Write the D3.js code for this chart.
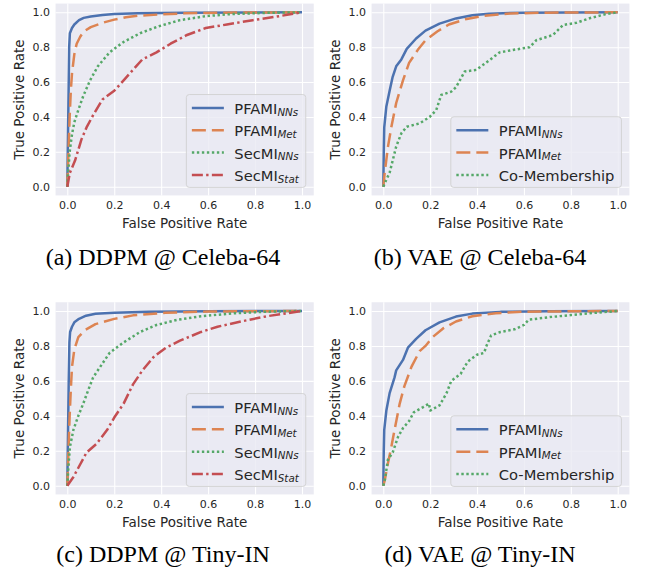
<!DOCTYPE html>
<html>
<head>
<meta charset="utf-8">
<script src="https://cdn.jsdelivr.net/npm/d3@7"></script>
<style>
body { margin: 0; background: #fff; }
</style>
</head>
<body>
<div id="fig"></div>
<script>
"use strict"

// ROC points, [fpr, tpr]

var ddpmCelebaPfamiNNs = [[0,0],[0.003,0.3],[0.006,0.6],[0.008,0.8],[0.011,0.88],[0.02,0.91],[0.03,0.93],[0.05,0.955],[0.07,0.968],[0.1,0.976],[0.15,0.985],[0.2,0.99],[0.3,0.995],[0.5,0.998],[1,1]];
var ddpmCelebaPfamiMet = [[0,0],[0.005,0.2],[0.01,0.4],[0.015,0.55],[0.02,0.65],[0.03,0.76],[0.04,0.82],[0.055,0.86],[0.07,0.89],[0.1,0.915],[0.15,0.94],[0.2,0.958],[0.25,0.972],[0.3,0.98],[0.4,0.988],[0.5,0.994],[0.65,0.998],[1,1]];
var ddpmCelebaSecmiNNs = [[0,0],[0.004,0.08],[0.01,0.2],[0.02,0.3],[0.03,0.37],[0.047,0.44],[0.068,0.52],[0.097,0.61],[0.13,0.69],[0.18,0.77],[0.24,0.83],[0.31,0.88],[0.39,0.92],[0.48,0.955],[0.59,0.978],[0.7,0.99],[0.85,0.997],[1,1]];
var ddpmCelebaSecmiStat = [[0,0],[0.011,0.08],[0.033,0.15],[0.06,0.27],[0.082,0.34],[0.11,0.41],[0.15,0.5],[0.2,0.55],[0.24,0.61],[0.28,0.67],[0.32,0.73],[0.38,0.77],[0.44,0.82],[0.51,0.87],[0.59,0.91],[0.68,0.93],[0.79,0.955],[0.89,0.975],[1,1]];

var vaeCelebaPfamiNNs = [[0,0],[0.002,0.2],[0.004,0.34],[0.013,0.46],[0.027,0.55],[0.04,0.63],[0.055,0.69],[0.077,0.73],[0.1,0.79],[0.14,0.85],[0.18,0.895],[0.24,0.935],[0.31,0.965],[0.38,0.983],[0.45,0.992],[0.6,0.998],[1,1]];
var vaeCelebaPfamiMet = [[0,0],[0.006,0.08],[0.02,0.23],[0.034,0.34],[0.055,0.48],[0.084,0.61],[0.11,0.71],[0.15,0.79],[0.18,0.84],[0.23,0.89],[0.28,0.93],[0.35,0.96],[0.43,0.98],[0.54,0.993],[0.7,0.998],[1,1]];
var vaeCelebaCoMember = [[0,0],[0.013,0.04],[0.027,0.08],[0.04,0.15],[0.055,0.23],[0.077,0.306],[0.1,0.344],[0.155,0.363],[0.198,0.4],[0.226,0.44],[0.247,0.526],[0.29,0.545],[0.31,0.57],[0.347,0.66],[0.397,0.67],[0.454,0.727],[0.496,0.77],[0.553,0.784],[0.624,0.8],[0.653,0.84],[0.724,0.87],[0.767,0.927],[0.824,0.94],[0.88,0.966],[0.95,0.99],[1,1]];

var ddpmTinyPfamiNNs = [[0,0],[0.003,0.3],[0.006,0.6],[0.009,0.82],[0.012,0.88],[0.02,0.91],[0.03,0.935],[0.05,0.955],[0.08,0.973],[0.12,0.984],[0.2,0.99],[0.35,0.996],[0.6,0.999],[1,1]];
var ddpmTinyPfamiMet = [[0,0],[0.005,0.2],[0.01,0.4],[0.015,0.55],[0.02,0.68],[0.03,0.78],[0.047,0.85],[0.075,0.89],[0.12,0.925],[0.2,0.955],[0.28,0.975],[0.42,0.99],[0.6,0.997],[1,1]];
var ddpmTinySecmiNNs = [[0,0],[0.004,0.09],[0.011,0.22],[0.026,0.32],[0.047,0.4],[0.068,0.47],[0.09,0.55],[0.11,0.62],[0.14,0.68],[0.18,0.76],[0.24,0.82],[0.31,0.88],[0.38,0.92],[0.47,0.95],[0.57,0.97],[0.71,0.987],[0.85,0.996],[1,1]];
var ddpmTinySecmiStat = [[0,0],[0.026,0.05],[0.054,0.12],[0.082,0.19],[0.125,0.24],[0.17,0.32],[0.2,0.39],[0.24,0.47],[0.28,0.58],[0.32,0.66],[0.37,0.74],[0.42,0.79],[0.48,0.83],[0.57,0.88],[0.64,0.91],[0.74,0.94],[0.85,0.97],[1,1]];

var vaeTinyPfamiNNs = [[0,0],[0.002,0.2],[0.004,0.32],[0.013,0.43],[0.027,0.53],[0.048,0.62],[0.055,0.66],[0.084,0.72],[0.105,0.79],[0.14,0.84],[0.18,0.89],[0.24,0.935],[0.31,0.968],[0.38,0.985],[0.5,0.995],[0.7,0.999],[1,1]];
var vaeTinyPfamiMet = [[0,0],[0.006,0.03],[0.02,0.13],[0.034,0.22],[0.048,0.32],[0.07,0.47],[0.09,0.57],[0.12,0.68],[0.155,0.77],[0.18,0.8],[0.21,0.85],[0.255,0.9],[0.31,0.94],[0.38,0.97],[0.48,0.987],[0.6,0.996],[1,1]];
var vaeTinyCoMember = [[0,0],[0.006,0.03],[0.02,0.15],[0.04,0.19],[0.063,0.28],[0.084,0.33],[0.11,0.37],[0.13,0.42],[0.17,0.45],[0.195,0.47],[0.2,0.43],[0.24,0.46],[0.27,0.53],[0.29,0.6],[0.33,0.64],[0.36,0.71],[0.4,0.75],[0.43,0.76],[0.44,0.8],[0.46,0.86],[0.5,0.88],[0.56,0.895],[0.6,0.92],[0.62,0.95],[0.71,0.965],[0.8,0.977],[0.88,0.987],[1,1]];

var ticks = [0, 0.2, 0.4, 0.6, 0.8, 1.0];
var captions = ["(a) DDPM @ Celeba-64", "(b) VAE @ Celeba-64", "(c) DDPM @ Tiny-IN", "(d) VAE @ Tiny-IN"];

// method name + subscript, and how each one is drawn
var methods = {
	pfamiNNs:  {name: "PFAMI", sub: "NNs",  color: "#4C72B0", dash: null},
	pfamiMet:  {name: "PFAMI", sub: "Met",  color: "#DD8452", dash: "14,6"},
	secmiNNs:  {name: "SecMI", sub: "NNs",  color: "#55A868", dash: "2.4,2.6"},
	secmiStat: {name: "SecMI", sub: "Stat", color: "#C44E52", dash: "11,3.3,2.4,3.3"},
	coMember:  {name: "Co-Membership", sub: "", color: "#55A868", dash: "2.4,2.6"}
};

var panels = [
	{x0: 67.3, x1: 302, y0: 186.7, y1: 12.3, capX: 163, capY: 265,
	 series: [["pfamiNNs", ddpmCelebaPfamiNNs], ["pfamiMet", ddpmCelebaPfamiMet], ["secmiNNs", ddpmCelebaSecmiNNs], ["secmiStat", ddpmCelebaSecmiStat]]},
	{x0: 383.3, x1: 617.7, y0: 186.7, y1: 12.3, capX: 480, capY: 265,
	 series: [["pfamiNNs", vaeCelebaPfamiNNs], ["pfamiMet", vaeCelebaPfamiMet], ["coMember", vaeCelebaCoMember]]},
	{x0: 67.3, x1: 302, y0: 485.7, y1: 311, capX: 163, capY: 562,
	 series: [["pfamiNNs", ddpmTinyPfamiNNs], ["pfamiMet", ddpmTinyPfamiMet], ["secmiNNs", ddpmTinySecmiNNs], ["secmiStat", ddpmTinySecmiStat]]},
	{x0: 383.3, x1: 617.7, y0: 485.7, y1: 311, capX: 480, capY: 562,
	 series: [["pfamiNNs", vaeTinyPfamiNNs], ["pfamiMet", vaeTinyPfamiMet], ["coMember", vaeTinyCoMember]]}
];

var font = "'DejaVu Sans', sans-serif",
	ink = "#262626";

var svg = d3.select("#fig").append("svg")
	.attr("width", 646)
	.attr("height", 569)
	.style("background", "#fff");

panels.forEach(function(p, i) {
	var x = d3.scaleLinear().domain([-0.05, 1.05]).range([p.x0 - 0.05*(p.x1-p.x0), p.x1 + 0.05*(p.x1-p.x0)]);
	var y = d3.scaleLinear().domain([-0.05, 1.05]).range([p.y0 + 0.05*(p.y0-p.y1), p.y1 - 0.05*(p.y0-p.y1)]);
	var left = x(-0.05), right = x(1.05), top = y(1.05), bottom = y(-0.05);

	var g = svg.append("g");

	g.append("rect")
		.attr("x", left).attr("y", top)
		.attr("width", right - left).attr("height", bottom - top)
		.attr("fill", "#EAEAF2");

	// axes double as the white grid
	var xa = g.append("g")
		.attr("transform", "translate(0," + bottom + ")")
		.call(d3.axisBottom(x).tickValues(ticks).tickFormat(d3.format(".1f"))
			.tickSize(-(bottom - top)).tickPadding(5.5));
	var ya = g.append("g")
		.attr("transform", "translate(" + left + ",0)")
		.call(d3.axisLeft(y).tickValues(ticks).tickFormat(d3.format(".1f"))
			.tickSize(-(right - left)).tickPadding(5.5));
	[xa, ya].forEach(function(a) {
		a.select(".domain").remove();
		a.selectAll("line").attr("stroke", "#fff").attr("stroke-width", 1.1);
		a.selectAll("text").attr("fill", ink).style("font-family", font).style("font-size", "11px");
	});

	g.append("text")
		.attr("x", (left + right) / 2).attr("y", bottom + 28)
		.attr("text-anchor", "middle").attr("dominant-baseline", "central")
		.style("font-family", font).style("font-size", "13.5px").attr("fill", ink)
		.text("False Positive Rate");
	g.append("text")
		.attr("transform", "translate(" + (left - 36.3) + "," + y(0.5) + ") rotate(-90)")
		.attr("text-anchor", "middle").attr("dominant-baseline", "central")
		.style("font-family", font).style("font-size", "13.5px").attr("fill", ink)
		.text("True Positive Rate");

	var line = d3.line()
		.x(function(d) { return x(d[0]); })
		.y(function(d) { return y(d[1]); });

	g.selectAll("path.roc").data(p.series).enter().append("path")
		.attr("class", "roc")
		.attr("d", function(d) { return line(d[1]); })
		.attr("fill", "none")
		.attr("stroke", function(d) { return methods[d[0]].color; })
		.attr("stroke-width", 2.5)
		.attr("stroke-dasharray", function(d) { return methods[d[0]].dash; })
		.attr("stroke-linejoin", "round");

	// legend, lower right
	var n = p.series.length,
		boxH = 13.5 + (n - 1) * 22.3 + 12.5;
	var lg = g.append("g");
	var box = lg.append("rect")
		.attr("y", bottom - 8 - boxH).attr("height", boxH)
		.attr("rx", 3)
		.attr("fill", "#EAEAF2").attr("fill-opacity", 0.8)
		.attr("stroke", "#d0d0d0").attr("stroke-width", 0.9);
	var maxW = 0;
	var rows = lg.selectAll("g.row").data(p.series).enter().append("g").attr("class", "row");
	rows.each(function(d, k) {
		var m = methods[d[0]], ry = bottom - 8 - boxH + 13.5 + k * 22.3;
		var r = d3.select(this).attr("transform", "translate(0," + ry + ")");
		r.append("line").attr("class", "swatch")
			.attr("y1", 0).attr("y2", 0)
			.attr("stroke", m.color).attr("stroke-width", 2.5)
			.attr("stroke-dasharray", m.dash);
		var t = r.append("text").attr("class", "lab")
			.attr("dominant-baseline", "central")
			.style("font-family", font).style("font-size", "14.7px").attr("fill", ink);
		t.append("tspan").text(m.name);
		if (m.sub) {
			t.append("tspan").attr("dy", 3.6).style("font-size", "10.3px").style("font-style", "italic").text(m.sub);
		}
		maxW = Math.max(maxW, t.node().getComputedTextLength());
	});
	var boxW = 48 + maxW + 7,
		bx = right - 8 - boxW;
	box.attr("x", bx).attr("width", boxW);
	rows.selectAll("line.swatch").attr("x1", bx + 5.5).attr("x2", bx + 37.5);
	rows.selectAll("text.lab").attr("x", bx + 48);

	svg.append("text")
		.attr("x", p.capX).attr("y", p.capY)
		.attr("text-anchor", "middle")
		.style("font-family", "'Liberation Serif', 'Times New Roman', serif")
		.style("font-size", "24px").attr("fill", "#000")
		.text(captions[i]);
});
</script>
</body>
</html>
